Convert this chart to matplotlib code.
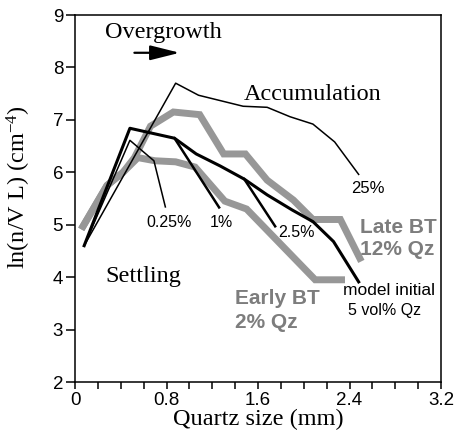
import numpy as np
import matplotlib
matplotlib.use("Agg")
import matplotlib.pyplot as plt
from matplotlib.ticker import MultipleLocator

# measured grain-size distributions (gray)
late_x = [0.07, 0.28, 0.42, 0.52, 0.66, 0.86, 1.09, 1.30, 1.49, 1.68, 1.91, 2.08, 2.32, 2.49]
late_y = [4.97, 5.75, 6.00, 6.28, 6.88, 7.15, 7.10, 6.35, 6.35, 5.85, 5.47, 5.10, 5.10, 4.36]
early_x = [0.07, 0.28, 0.42, 0.55, 0.70, 0.88, 1.05, 1.31, 1.50, 2.10, 2.33]
early_y = [4.97, 5.75, 6.00, 6.28, 6.22, 6.20, 6.10, 5.45, 5.30, 3.95, 3.95]

# model curves (black)
model_x = [0.08, 0.48, 0.87, 1.06, 1.27, 1.48, 1.68, 1.90, 2.08, 2.26, 2.48]
model_y = [4.60, 6.84, 6.65, 6.35, 6.12, 5.87, 5.57, 5.28, 5.06, 4.68, 3.91]
m025_x = [0.08, 0.48, 0.69, 0.79]
m025_y = [4.60, 6.61, 6.22, 5.34]
m1_x = [0.87, 1.26]
m1_y = [6.65, 5.33]
m25_x = [1.48, 1.75]
m25_y = [5.87, 4.97]
m250_x = [0.08, 0.88, 1.08, 1.47, 1.68, 1.88, 2.08, 2.27, 2.48]
m250_y = [4.60, 7.70, 7.47, 7.26, 7.24, 7.06, 6.92, 6.58, 5.96]

xticks = [0, 0.8, 1.6, 2.4, 3.2]
xticklabels = ["0", "0.8", "1.6", "2.4", "3.2"]
yticks = [2, 3, 4, 5, 6, 7, 8, 9]

serif = "Liberation Serif"; sans = "Liberation Sans"
gray = "#979797"; tgray = "#7d7d7d"
plt.rcParams["mathtext.fontset"] = "custom"
plt.rcParams["mathtext.rm"] = serif
plt.rcParams["mathtext.it"] = serif + ":italic"

fig = plt.figure(figsize=(4.59, 4.42), dpi=100)
ax = fig.add_axes([0.1634, 0.1357, 0.7974, 0.8303])

ax.plot(late_x, late_y, color=gray, lw=5, solid_joinstyle="miter", zorder=2)
ax.plot(early_x, early_y, color=gray, lw=5, solid_joinstyle="miter", zorder=2)
ax.plot(m250_x, m250_y, color="k", lw=1.1, zorder=3)
ax.plot(m025_x, m025_y, color="k", lw=1.1, zorder=3)
ax.plot(m1_x, m1_y, color="k", lw=1.8, zorder=3)
ax.plot(m25_x, m25_y, color="k", lw=1.8, zorder=3)
ax.plot(model_x, model_y, color="k", lw=2.2, zorder=4)

ax.set_xlim(0, 3.2); ax.set_ylim(2, 9)
ax.set_xticks(xticks); ax.set_xticklabels(xticklabels)
ax.xaxis.set_minor_locator(MultipleLocator(0.2))
ax.set_yticks(yticks)
ax.tick_params(axis="both", which="both", direction="out", width=1.1, labelsize=13.5, top=False, right=False)
ax.tick_params(axis="y", which="major", length=6.5, pad=2)
ax.tick_params(axis="x", which="major", length=5, pad=2)
ax.tick_params(axis="x", which="minor", length=5)
for lab in ax.get_xticklabels() + ax.get_yticklabels():
    lab.set_family(sans)
for s in ax.spines.values():
    s.set_linewidth(1.1)

ax.set_xlabel("Quartz size (mm)", family=serif, fontsize=17.5, labelpad=0)
ax.set_ylabel("ln(n/V L) (cm$^{-4}$)", family=serif, fontsize=17.5)
ax.yaxis.set_label_coords(-0.115, 0.53)

ax.text(0.776, 8.66, "Overgrowth", family=serif, fontsize=17.5, ha="center", va="center")
ax.annotate("", xy=(0.94, 8.28), xytext=(0.495, 8.28),
            arrowprops=dict(arrowstyle="-|>,head_length=1.0,head_width=0.25", lw=1.6, color="k", mutation_scale=18))
ax.text(2.08, 7.49, "Accumulation", family=serif, fontsize=17.5, ha="center", va="center")
ax.text(0.60, 4.02, "Settling", family=serif, fontsize=17.5, ha="center", va="center")

ax.text(0.826, 5.05, "0.25%", family=sans, fontsize=11.5, ha="center", va="center")
ax.text(1.282, 5.05, "1%", family=sans, fontsize=11.5, ha="center", va="center")
ax.text(1.938, 4.85, "2.5%", family=sans, fontsize=11.5, ha="center", va="center")
ax.text(2.557, 5.69, "25%", family=sans, fontsize=12, ha="center", va="center")

ax.text(2.49, 4.95, "Late BT", family=sans, fontsize=15, fontweight="bold", color=tgray, ha="left", va="center")
ax.text(2.49, 4.52, "12% Qz", family=sans, fontsize=15, fontweight="bold", color=tgray, ha="left", va="center")
ax.text(1.40, 3.60, "Early BT", family=sans, fontsize=15, fontweight="bold", color=tgray, ha="left", va="center")
ax.text(1.40, 3.14, "2% Qz", family=sans, fontsize=15, fontweight="bold", color=tgray, ha="left", va="center")
ax.text(2.34, 3.74, "model initial", family=sans, fontsize=12.5, ha="left", va="center")
ax.text(2.39, 3.37, "5 vol% Qz", family=sans, fontsize=11.5, ha="left", va="center")

fig.savefig("out.png", dpi=100)
